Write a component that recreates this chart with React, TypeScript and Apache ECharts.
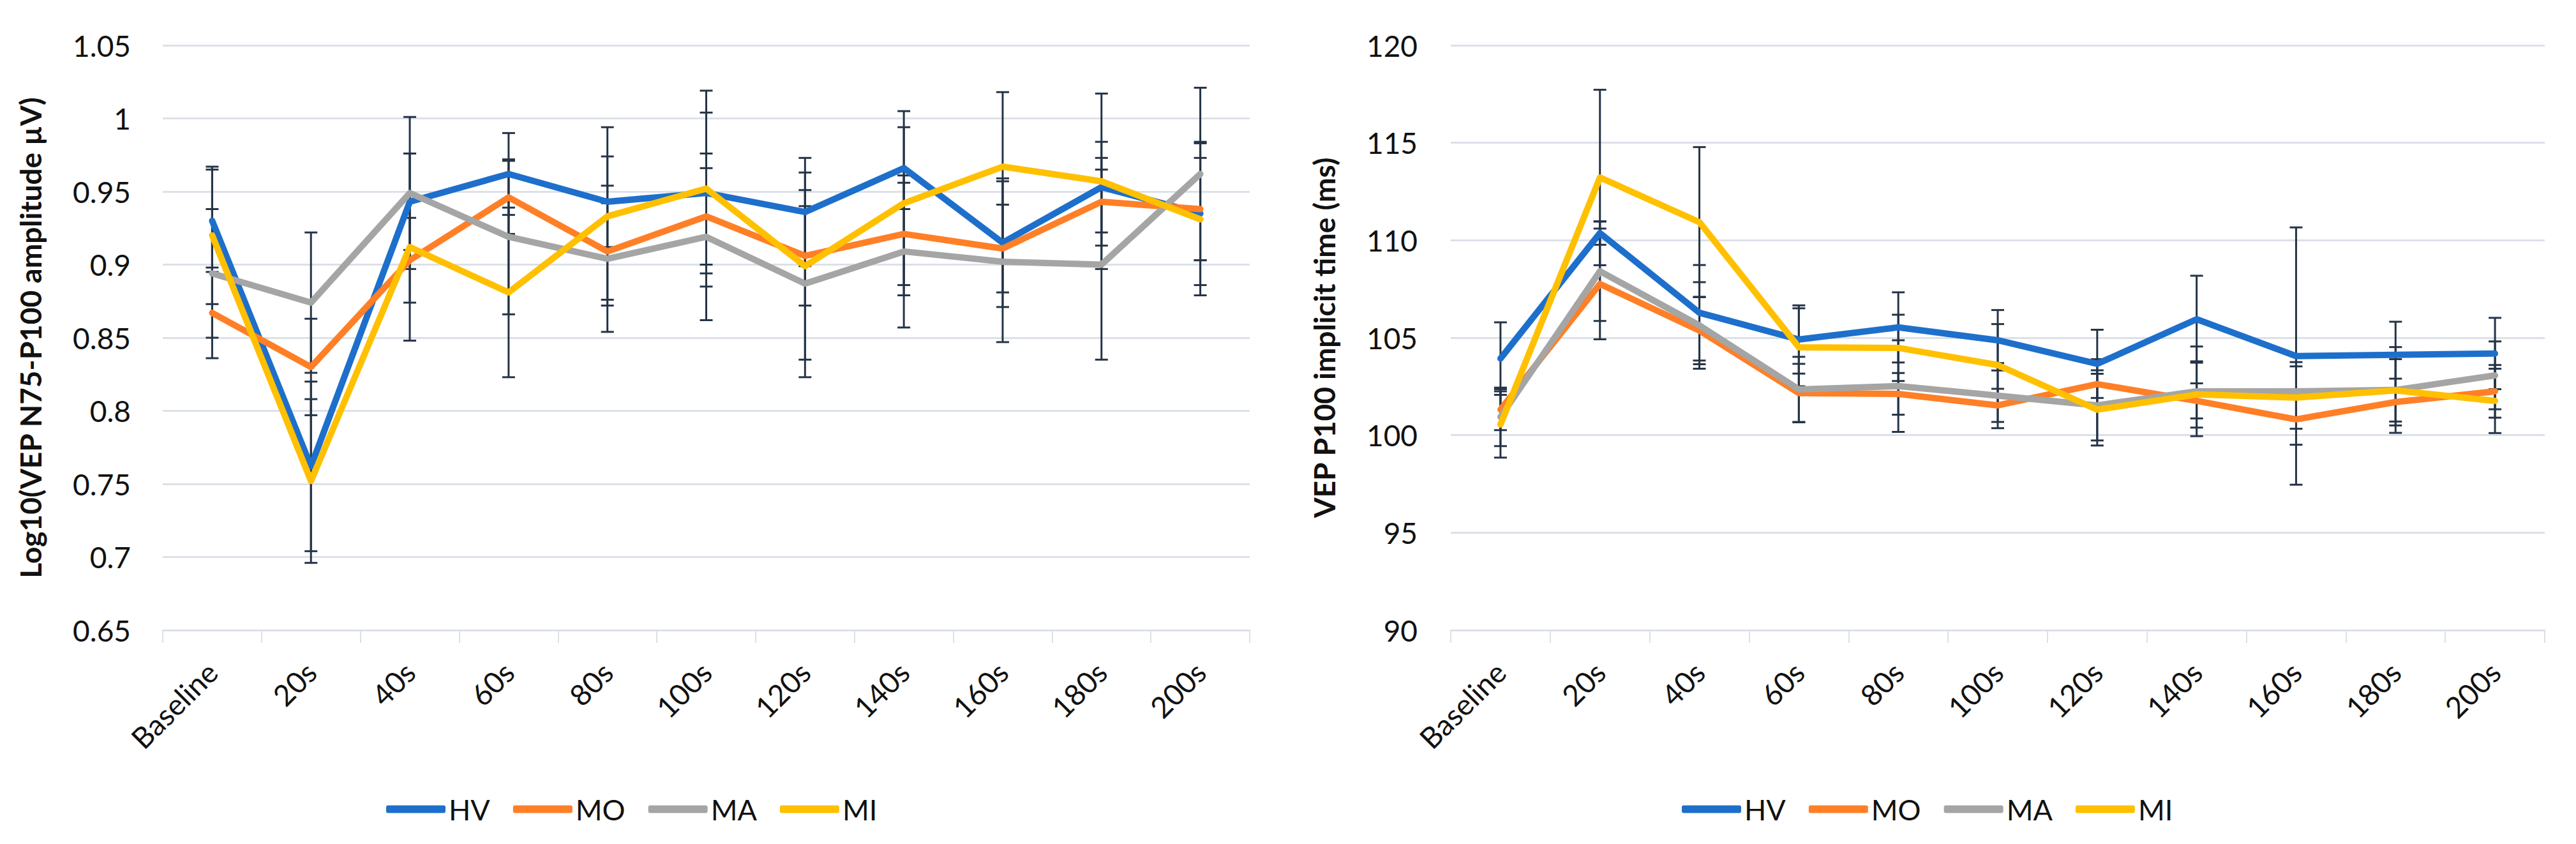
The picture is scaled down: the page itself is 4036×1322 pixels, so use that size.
import React, { useEffect, useRef } from "react";
import * as echarts from "echarts";

const categories = ["Baseline", "20s", "40s", "60s", "80s", "100s", "120s", "140s", "160s", "180s", "200s"];
const seriesNames = ["HV", "MO", "MA", "MI"];
const lineColors = ["#1D6FCB", "#FF7F27", "#A5A5A5", "#FFC000"];

// Left chart: Log10(VEP N75-P100 amplitude µV)
const ampHV = [0.930, 0.762, 0.943, 0.962, 0.943, 0.949, 0.936, 0.966, 0.915, 0.953, 0.935];
const ampMO = [0.867, 0.830, 0.903, 0.946, 0.909, 0.933, 0.906, 0.921, 0.911, 0.943, 0.938];
const ampMA = [0.894, 0.874, 0.949, 0.919, 0.904, 0.919, 0.887, 0.909, 0.902, 0.900, 0.962];
const ampMI = [0.920, 0.752, 0.912, 0.881, 0.933, 0.952, 0.899, 0.942, 0.967, 0.957, 0.931];
const ampErrHV = [0.035, 0.058, 0.033, 0.028, 0.031, 0.055, 0.037, 0.028, 0.044, 0.031, 0.049];
const ampErrMO = [0.031, 0.033, 0.029, 0.025, 0.033, 0.033, 0.034, 0.035, 0.030, 0.030, 0.035];
const ampErrMA = [0.044, 0.048, 0.052, 0.053, 0.050, 0.057, 0.064, 0.052, 0.055, 0.065, 0.059];
const ampErrMI = [0.047, 0.056, 0.064, 0.058, 0.061, 0.067, 0.064, 0.063, 0.051, 0.060, 0.052];

// Right chart: VEP P100 implicit time (ms)
const latHV = [103.93, 110.37, 106.28, 104.91, 105.53, 104.87, 103.66, 105.95, 104.06, 104.12, 104.19];
const latMO = [101.31, 107.76, 105.37, 102.16, 102.12, 101.53, 102.62, 101.76, 100.81, 101.70, 102.25];
const latMA = [100.94, 108.41, 105.63, 102.35, 102.52, 102.03, 101.53, 102.25, 102.25, 102.32, 103.07];
const latMI = [100.55, 113.22, 110.93, 104.51, 104.48, 103.60, 101.31, 102.09, 101.93, 102.30, 101.76];
const latErrHV = [1.86, 0.6, 2.45, 1.75, 1.8, 1.55, 1.75, 2.23, 6.6, 1.7, 1.83];
const latErrMO = [1.05, 2.84, 1.73, 1.5, 1.07, 0.85, 1.28, 0.9, 1.3, 1.2, 1.35];
const latErrMA = [1.5, 2.55, 2.22, 1.67, 2.35, 1.67, 1.8, 2.3, 1.5, 2.2, 1.74];
const latErrMI = [1.7, 4.5, 3.85, 2.0, 1.7, 2.1, 1.84, 1.7, 1.6, 1.6, 1.65];

const ampTicks = { min: 0.65, max: 1.05, interval: 0.05 };
const latTicks = { min: 90, max: 120, interval: 5 };

const GRID_COLOR = "#DCE1E8";
const ERR_COLOR = "#243447";
const TEXT_COLOR = "#111111";
const FONT = "Lato";

function errRows(means: number[], errs: number[]) {
  return means.map((m, i) => [i, m - errs[i], m + errs[i]]);
}

const renderErr = (params: any, api: any) => {
  const i = api.value(0);
  const lo = api.coord([i, api.value(1)]);
  const hi = api.coord([i, api.value(2)]);
  const hw = 10;
  const style = { stroke: ERR_COLOR, lineWidth: 3, fill: "none" };
  return {
    type: "group",
    children: [
      { type: "line", shape: { x1: hi[0], y1: hi[1], x2: lo[0], y2: lo[1] }, style },
      { type: "line", shape: { x1: hi[0] - hw, y1: hi[1], x2: hi[0] + hw, y2: hi[1] }, style },
      { type: "line", shape: { x1: lo[0] - hw, y1: lo[1], x2: lo[0] + hw, y2: lo[1] }, style },
    ],
  };
};

export default function App() {
  const ref = useRef<HTMLDivElement>(null);

  useEffect(() => {
    if (!ref.current) return;
    const chart = echarts.init(ref.current, undefined, { renderer: "svg" });

    const ampMeans = [ampHV, ampMO, ampMA, ampMI];
    const ampErrs = [ampErrHV, ampErrMO, ampErrMA, ampErrMI];
    const latMeans = [latHV, latMO, latMA, latMI];
    const latErrs = [latErrHV, latErrMO, latErrMA, latErrMI];

    const series: any[] = [];
    [ampMeans, latMeans].forEach((means, g) => {
      const errs = g === 0 ? ampErrs : latErrs;
      means.forEach((m, k) => {
        series.push({
          type: "custom",
          name: seriesNames[k] + "-err-" + g,
          xAxisIndex: g,
          yAxisIndex: g,
          renderItem: renderErr,
          encode: { x: 0, y: [1, 2] },
          data: errRows(m, errs[k]),
          z: 2,
          silent: true,
        });
      });
      means.forEach((m, k) => {
        series.push({
          type: "line",
          name: seriesNames[k],
          xAxisIndex: g,
          yAxisIndex: g,
          data: m,
          symbol: "none",
          color: lineColors[k],
          lineStyle: { width: 10, color: lineColors[k], cap: "round", join: "round" },
          z: 3 + k,
        });
      });
    });

    const xAxisBase = (g: number) => ({
      type: "category",
      gridIndex: g,
      data: categories,
      boundaryGap: true,
      axisLine: { show: true, lineStyle: { color: GRID_COLOR, width: 3 } },
      axisTick: { show: true, length: 20, interval: 0, lineStyle: { color: GRID_COLOR, width: 2 } },
      axisLabel: { rotate: 45, interval: 0, fontSize: 46, fontFamily: FONT, color: TEXT_COLOR, margin: 58 },
      splitLine: { show: false },
    });

    const legendBase = (left: number) => ({
      data: seriesNames,
      left,
      top: 1240,
      icon: "roundRect",
      itemWidth: 93,
      itemHeight: 12,
      itemGap: 36,
      textStyle: { fontSize: 45, fontFamily: FONT, color: TEXT_COLOR },
    });

    chart.setOption({
      animation: false,
      backgroundColor: "#ffffff",
      grid: [
        { left: 255, top: 71, width: 1703, height: 916 },
        { left: 2273, top: 71, width: 1714, height: 916 },
      ],
      legend: [legendBase(600), legendBase(2630)],
      xAxis: [xAxisBase(0), xAxisBase(1)],
      yAxis: [
        {
          type: "value",
          gridIndex: 0,
          min: ampTicks.min,
          max: ampTicks.max,
          interval: ampTicks.interval,
          axisLine: { show: false },
          axisTick: { show: false },
          splitLine: { show: true, lineStyle: { color: GRID_COLOR, width: 3 } },
          axisLabel: {
            fontSize: 46,
            fontFamily: FONT,
            color: TEXT_COLOR,
            margin: 50,
            formatter: (v: number) => String(parseFloat(v.toFixed(2))),
          },
          name: "Log10(VEP N75-P100 amplitude µV)",
          nameLocation: "middle",
          nameGap: 185,
          nameRotate: 90,
          nameTextStyle: { fontSize: 46, fontWeight: "bold", fontFamily: FONT, color: TEXT_COLOR },
        },
        {
          type: "value",
          gridIndex: 1,
          min: latTicks.min,
          max: latTicks.max,
          interval: latTicks.interval,
          axisLine: { show: false },
          axisTick: { show: false },
          splitLine: { show: true, lineStyle: { color: GRID_COLOR, width: 3 } },
          axisLabel: { fontSize: 46, fontFamily: FONT, color: TEXT_COLOR, margin: 52 },
          name: "VEP P100 implicit time (ms)",
          nameLocation: "middle",
          nameGap: 176,
          nameRotate: 90,
          nameTextStyle: { fontSize: 46, fontWeight: "bold", fontFamily: FONT, color: TEXT_COLOR },
        },
      ],
      series,
    });

    return () => chart.dispose();
  }, []);

  return (
    <div
      ref={ref}
      style={{ position: "fixed", left: 0, top: 0, width: 4036, height: 1322, background: "#fff" }}
    />
  );
}
